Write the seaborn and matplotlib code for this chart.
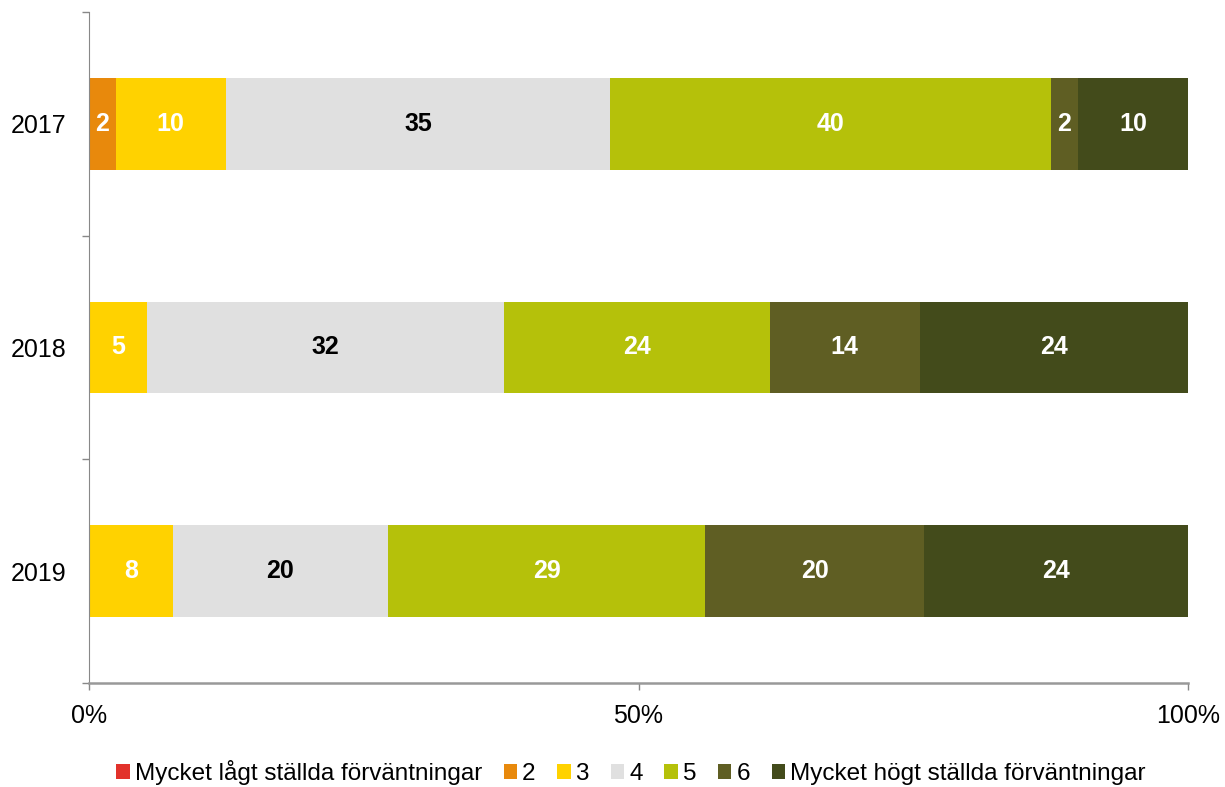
import pandas as pd
import matplotlib.pyplot as plt
from matplotlib.patches import Patch
import seaborn as sns

# Data (percent shares per year)
years = ['2017', '2018', '2019']
categories = ['Mycket lågt ställda förväntningar', '2', '3', '4', '5', '6',
              'Mycket högt ställda förväntningar']
v_1 = [0.0, 0.0, 0.0]
v_2 = [2.4, 0.0, 0.0]
v_3 = [10.0, 5.3, 7.6]
v_4 = [34.9, 32.4, 19.6]
v_5 = [40.0, 24.2, 28.8]
v_6 = [2.4, 13.6, 19.9]
v_7 = [10.0, 24.4, 24.0]
series = [v_1, v_2, v_3, v_4, v_5, v_6, v_7]

colors = ['#E2322B', '#E8890C', '#FFD200', '#E0E0E0', '#B5C10A', '#5F5E23', '#434B1B']
label_colors = ['white', 'white', 'white', 'black', 'white', 'white', 'white']

# long table, normalised to 100 % per year
rows = []
for c, vals in zip(categories, series):
    for y, v in zip(years, vals):
        rows.append({'year': y, 'cat': c, 'value': v})
df = pd.DataFrame(rows)
df['cat'] = pd.Categorical(df['cat'], categories=categories, ordered=True)
df = df.sort_values(['year', 'cat'])
df['share'] = df['value'] / df.groupby('year')['value'].transform('sum') * 100
df['cum'] = df.groupby('year')['share'].cumsum()
df['left'] = df['cum'] - df['share']

sns.set_style('ticks')
plt.rcParams['font.family'] = ['Liberation Sans', 'DejaVu Sans']
plt.rcParams['text.color'] = 'black'
plt.rcParams['xtick.labelcolor'] = 'black'
plt.rcParams['ytick.labelcolor'] = 'black'

fig = plt.figure(figsize=(12.25, 7.87), dpi=100)
ax = fig.add_axes([0.0727, 0.1322, 0.8971, 0.8526])

# stacked bars: draw cumulative totals from the last category backwards
for i in reversed(range(len(categories))):
    sub = df[df['cat'] == categories[i]]
    sns.barplot(data=sub, x='cum', y='year', order=years, orient='h',
                color=colors[i], saturation=1, width=0.41, errorbar=None,
                linewidth=0, ax=ax)

# value labels
for _, r in df.iterrows():
    if r['value'] > 0:
        i = categories.index(r['cat'])
        ax.text(r['left'] + r['share'] / 2, years.index(r['year']),
                f"{r['value']:.0f}", ha='center', va='center',
                fontsize=18, fontweight='bold', color=label_colors[i])

ax.set_xlim(0, 100)
ax.set_ylim(2.5, -0.5)
ax.set_xticks([0, 50, 100])
ax.set_xticklabels(['0%', '50%', '100%'])
ax.set_yticks([-0.5, 0.5, 1.5, 2.5], minor=True)
ax.set_xlabel('')
ax.set_ylabel('')

ax.tick_params(axis='y', which='major', length=0, pad=16, labelsize=18)
ax.tick_params(axis='y', which='minor', length=5, width=1, color='#888888')
ax.tick_params(axis='x', length=5, width=1, color='#888888', pad=10, labelsize=18)

sns.despine(ax=ax)
ax.spines['left'].set_color('#888888')
ax.spines['bottom'].set_color('#999999')
ax.spines['bottom'].set_linewidth(1.8)

handles = [Patch(facecolor=c, edgecolor='none') for c in colors]
fig.legend(handles, categories, loc='center', bbox_to_anchor=(0.515, 0.018),
           ncol=7, frameon=False, fontsize=17.5, handlelength=0.55,
           handleheight=0.55, handletextpad=0.2, columnspacing=0.9)

plt.savefig('out.png', dpi=100)
